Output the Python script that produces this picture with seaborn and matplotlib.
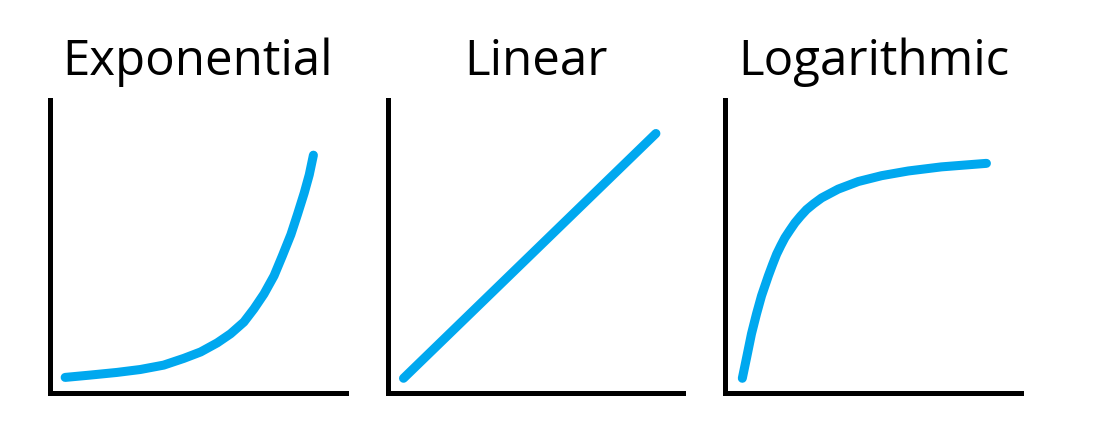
import seaborn as sns
import matplotlib.pyplot as plt

sns.set_style('white')
plt.rcParams['font.family'] = ['Open Sans', 'DejaVu Sans']

TITLES = ['Exponential', 'Linear', 'Logarithmic']
LINE_COLOR = '#00A8EF'

exp_x = [0.51, 1.36, 2.26, 3.05, 3.84, 4.52, 5.09, 5.65, 6.10, 6.55,
         6.89, 7.23, 7.57, 7.85, 8.14, 8.36, 8.59, 8.76, 8.90]
exp_y = [0.53, 0.61, 0.70, 0.80, 0.95, 1.18, 1.40, 1.71, 2.02, 2.42,
         2.87, 3.38, 4.00, 4.68, 5.41, 6.09, 6.83, 7.45, 8.12]

lin_x = [0.54, 9.07]
lin_y = [0.50, 8.86]

log_x = [0.57, 0.72, 0.88, 1.05, 1.22, 1.45, 1.59, 1.73, 1.87, 2.01,
         2.18, 2.35, 2.54, 2.74, 2.98, 3.25, 3.81, 4.49, 5.28, 6.18,
         7.30, 8.82]
log_y = [0.50, 1.23, 2.02, 2.70, 3.32, 4.00, 4.38, 4.74, 5.03, 5.30,
         5.56, 5.81, 6.04, 6.26, 6.46, 6.66, 6.96, 7.22, 7.42, 7.58,
         7.72, 7.84]

series = [(exp_x, exp_y), (lin_x, lin_y), (log_x, log_y)]
lefts = [0.0455, 0.3523, 0.6595]

fig = plt.figure(figsize=(11, 4.41), dpi=100)

for left, title, (xs, ys) in zip(lefts, TITLES, series):
    ax = fig.add_axes([left, 0.109, 0.269, 0.664])
    sns.lineplot(x=xs, y=ys, ax=ax, color=LINE_COLOR, linewidth=6.5,
                 sort=False, solid_capstyle='round')
    ax.set_xlim(0, 10)
    ax.set_ylim(0, 10)
    ax.set_xticks([])
    ax.set_yticks([])
    for side in ['top', 'right']:
        ax.spines[side].set_visible(False)
    for side in ['left', 'bottom']:
        ax.spines[side].set_color('black')
        ax.spines[side].set_linewidth(3.6)
    ax.set_title(title, fontsize=35.5, pad=18, color='black')

fig.savefig('out.png', dpi=100)
